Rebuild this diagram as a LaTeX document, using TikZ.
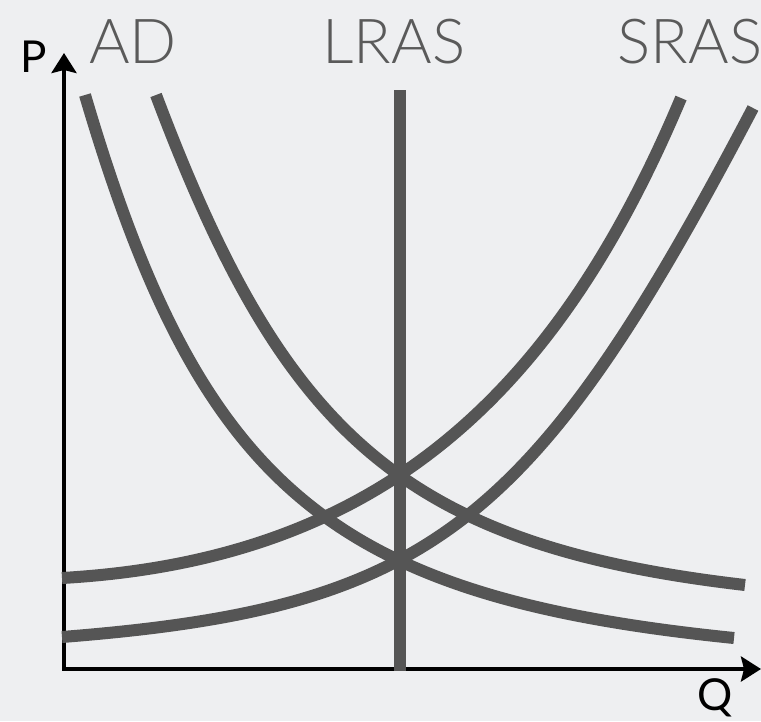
\documentclass[tikz,border=0pt]{standalone}
\usepackage{fontspec}
\setmainfont{Lato}
\newfontfamily\labelfont{Lato Light}
\usetikzlibrary{arrows.meta}
\definecolor{paper}{HTML}{EEEFF1}
\definecolor{curve}{HTML}{555555}
\definecolor{tag}{HTML}{5A5A5A}

\begin{document}
\begin{tikzpicture}[x=1pt,y=-1pt,
  axis/.style={black,line width=4pt,-{Stealth[length=20pt,width=25pt,inset=3pt]}},
  line/.style={curve,line width=12pt},
  tag/.style={text=tag,font=\labelfont\fontsize{62}{62}\selectfont,anchor=base,inner sep=0pt},
  axislabel/.style={text=black,font=\fontsize{44}{44}\selectfont,anchor=base,inner sep=0pt}]
\fill[paper] (0,0) rectangle (761,721);
\useasboundingbox (0,0) rectangle (761,721);
% axes
\coordinate (origin) at (64,669);
\coordinate (ptop) at (64,53);
\coordinate (qend) at (761,669);
\draw[axis] (origin) -- (ptop);
\draw[axis] ([xshift=-2pt]origin) -- (qend);
% LRAS
\draw[line] (400,90) -- (400,671);
% AD curves
\draw[line] (85,95) .. controls (201,489) and (331,597) .. (734,638);
\draw[line] (156,95) .. controls (283,432) and (400,545) .. (745,585);
% SRAS curves
\draw[line] (62,578) .. controls (375,560) and (554,400) .. (681,98);
\draw[line] (62,637) .. controls (429,608) and (532,529) .. (753,108);
% labels
\node[tag] (ad) at (133,63) {AD};
\node[tag] (lras) at (394,63) {LRAS};
\node[tag] (sras) at (690,63) {SRAS};
\node[axislabel] (p) at (34,72) {P};
\node[axislabel] (q) at (715,710) {Q};
\end{tikzpicture}
\end{document}
